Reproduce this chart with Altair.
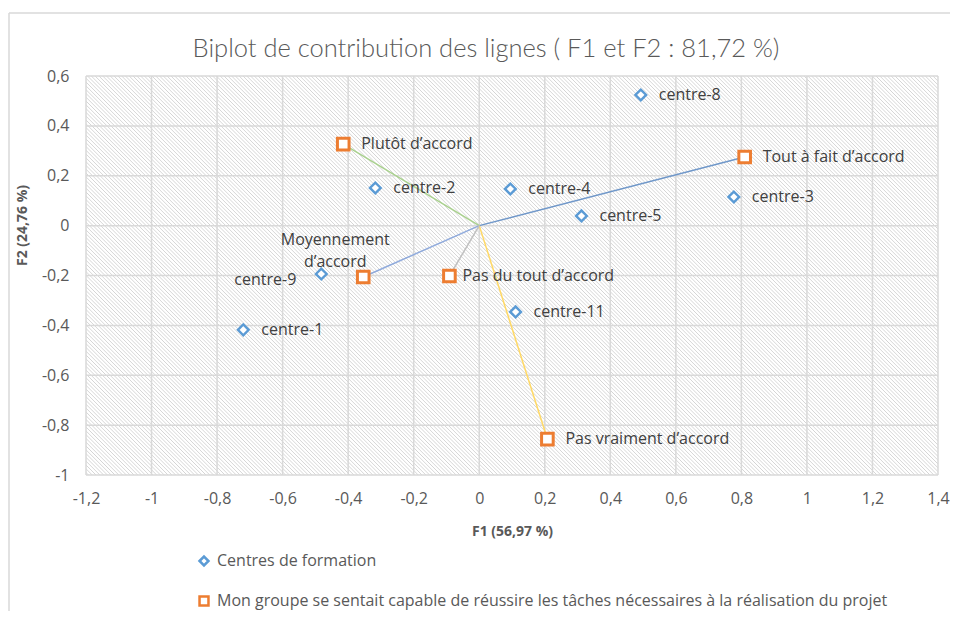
import altair as alt
import pandas as pd

# ---- data ----
centres = ["centre-1", "centre-2", "centre-3", "centre-4", "centre-5", "centre-8", "centre-9", "centre-11"]
centre_f1 = [-0.720, -0.317, 0.777, 0.095, 0.312, 0.493, -0.482, 0.111]
centre_f2 = [-0.418, 0.151, 0.115, 0.147, 0.039, 0.524, -0.194, -0.346]

modalities = ["Tout à fait d’accord", "Plutôt d’accord", "Moyennement d’accord",
              "Pas vraiment d’accord", "Pas du tout d’accord"]
mod_f1 = [0.810, -0.415, -0.354, 0.208, -0.091]
mod_f2 = [0.275, 0.327, -0.206, -0.856, -0.202]
mod_line_colors = ["#6f97c9", "#a9d18e", "#8faadc", "#ffd966", "#c0c0c0"]

groups = ["Centres de formation",
          "Mon groupe se sentait capable de réussire les tâches nécessaires à la réalisation du projet"]
group_colors = ["#5b9bd5", "#ed7d31"]
group_shapes = ["diamond", "square"]

x_ticks = [-1.2, -1.0, -0.8, -0.6, -0.4, -0.2, 0.0, 0.2, 0.4, 0.6, 0.8, 1.0, 1.2, 1.4]
y_ticks = [-1.0, -0.8, -0.6, -0.4, -0.2, 0.0, 0.2, 0.4, 0.6]
x_domain = [-1.2, 1.4]
y_domain = [-1.0, 0.6]

title_text = "Biplot de contribution des lignes ( F1 et F2 : 81,72 %)"
x_title = "F1 (56,97 %)"
y_title = "F2 (24,76 %)"

# ---- tables ----
pts = pd.DataFrame({
    "label": centres + modalities,
    "f1": centre_f1 + mod_f1,
    "f2": centre_f2 + mod_f2,
    "group": [groups[0]] * len(centres) + [groups[1]] * len(modalities),
})
mods = pd.DataFrame({"label": modalities, "f1": mod_f1, "f2": mod_f2})
xt = pd.DataFrame({"v": x_ticks})
yt = pd.DataFrame({"v": y_ticks})
bg = pd.DataFrame({"x": [x_domain[0]], "x2": [x_domain[1]], "y": [y_domain[0]], "y2": [y_domain[1]]})

label_expr = "replace(toString(datum.value), '.', ',')"
FONT = "Open Sans"
GREY = "#595959"

xs = alt.Scale(domain=x_domain, nice=False, zero=False)
ys = alt.Scale(domain=y_domain, nice=False, zero=False)

x_axis = alt.Axis(values=x_ticks, labelExpr=label_expr, grid=False, ticks=False, domain=False,
                  labelFlush=False, labelPadding=15, titlePadding=18, title=x_title)
y_axis = alt.Axis(values=y_ticks, labelExpr=label_expr, grid=False, ticks=False, domain=False,
                  labelFlush=False, labelPadding=17, titlePadding=12, title=y_title, titleY=149)

# hatched background (diagonal stripes) via a many-stop gradient
W, H = 852, 399
r = H / W
a = (1 + r) / (1 + r * r)
periods = 330
stops = []
for i in range(periods):
    b = i / periods
    p = 1.0 / periods
    stops.append({"offset": round(b, 6), "color": "#ffffff"})
    stops.append({"offset": round(b + 0.40 * p, 6), "color": "#ffffff"})
    stops.append({"offset": round(b + 0.65 * p, 6), "color": "#d4d4d4"})
    stops.append({"offset": round(b + 0.90 * p, 6), "color": "#ffffff"})
stops.append({"offset": 1.0, "color": "#ffffff"})
grad = {"gradient": "linear", "x1": 0, "y1": 1, "x2": round(a, 4), "y2": round(1 - a * r, 4), "stops": stops}

background = alt.Chart(bg).mark_rect(color=grad).encode(
    x=alt.X("x:Q", scale=xs, axis=x_axis), x2="x2:Q",
    y=alt.Y("y:Q", scale=ys, axis=y_axis), y2="y2:Q",
)

vgrid = alt.Chart(xt).mark_rule(color="#d9d9d9", strokeWidth=1.5).encode(x=alt.X("v:Q", scale=xs))
hgrid = alt.Chart(yt).mark_rule(color="#d9d9d9", strokeWidth=1.5).encode(y=alt.Y("v:Q", scale=ys))

vectors = alt.Chart(mods).transform_calculate(o="0").mark_rule(strokeWidth=1.5).encode(
    x=alt.X("o:Q", scale=xs), y=alt.Y("o:Q", scale=ys),
    x2="f1:Q", y2="f2:Q",
    color=alt.Color("label:N", scale=alt.Scale(domain=modalities, range=mod_line_colors), legend=None),
)

legend = alt.Legend(title=None, orient="none", legendX=110, legendY=477,
                    direction="vertical", rowPadding=20, labelOffset=5,
                    symbolFillColor="white", symbolStrokeWidth=2.5,
                    symbolSize=80, labelFont=FONT, labelFontSize=16,
                    labelColor=GREY, labelLimit=900)

def point_layer(group, size, sw):
    return alt.Chart(pts).transform_filter(
        alt.FieldEqualPredicate(field="group", equal=group)
    ).mark_point(filled=False, fill="white", opacity=1, size=size, strokeWidth=sw).encode(
        x=alt.X("f1:Q", scale=xs), y=alt.Y("f2:Q", scale=ys),
        stroke=alt.Stroke("group:N", scale=alt.Scale(domain=groups, range=group_colors), legend=legend),
        shape=alt.Shape("group:N", scale=alt.Scale(domain=groups, range=group_shapes), legend=legend),
    )

points_c = point_layer(groups[0], 115, 2.4)
points_m = point_layer(groups[1], 135, 3.0)

txt = dict(font="Open Sans", fontSize=16, color="#404040", baseline="middle")
left_names = ["centre-9"]
two_line = ["Moyennement d’accord"]
short_gap = ["Pas du tout d’accord"]
special = left_names + two_line + short_gap

labels_right = alt.Chart(pts).transform_filter(
    {"not": alt.FieldOneOfPredicate(field="label", oneOf=special).to_dict()}
).mark_text(align="left", dx=18, **txt).encode(
    x=alt.X("f1:Q", scale=xs), y=alt.Y("f2:Q", scale=ys), text="label:N")

labels_short = alt.Chart(pts).transform_filter(
    alt.FieldOneOfPredicate(field="label", oneOf=short_gap)
).mark_text(align="left", dx=13, **txt).encode(
    x=alt.X("f1:Q", scale=xs), y=alt.Y("f2:Q", scale=ys), text="label:N")

labels_left = alt.Chart(pts).transform_filter(
    alt.FieldOneOfPredicate(field="label", oneOf=left_names)
).mark_text(align="right", dx=-25, dy=6, **txt).encode(
    x=alt.X("f1:Q", scale=xs), y=alt.Y("f2:Q", scale=ys), text="label:N")

labels_two = alt.Chart(pts).transform_filter(
    alt.FieldOneOfPredicate(field="label", oneOf=two_line)
).mark_text(align="center", dx=-28, dy=-37, lineBreak=" ", lineHeight=22,
            font="Open Sans", fontSize=16, color="#404040", baseline="middle").encode(
    x=alt.X("f1:Q", scale=xs), y=alt.Y("f2:Q", scale=ys), text="label:N")

# outer chart frame (decoration)
frame_left = alt.Chart(bg).mark_rule(color="#d9d9d9", strokeWidth=1.5, clip=False).encode(
    x=alt.value(-77), y=alt.value(-63), y2=alt.value(540))
frame_top = alt.Chart(bg).mark_rule(color="#d9d9d9", strokeWidth=1.5, clip=False).encode(
    x=alt.value(-77), x2=alt.value(864), y=alt.value(-63))

chart = alt.layer(
    background, vgrid, hgrid, vectors, points_c, points_m,
    labels_right, labels_short, labels_left, labels_two,
    frame_left, frame_top,
).properties(
    width=W, height=H,
    title=alt.TitleParams(title_text, font="Lato", fontSize=25.5, fontWeight=300, color=GREY,
                          anchor="middle", dx=-26, offset=14, dy=64),
    padding={"left": 78, "top": 68, "right": 12, "bottom": 136},
    autosize=alt.AutoSizeParams(type="none"),
).configure_view(stroke=None).configure_axis(
    labelFont=FONT, labelFontSize=16, labelColor=GREY,
    titleFont=FONT, titleFontSize=14, titleFontWeight="bold", titleColor=GREY,
)

chart.save("out.html", embed_options={"renderer": "svg", "actions": False})
